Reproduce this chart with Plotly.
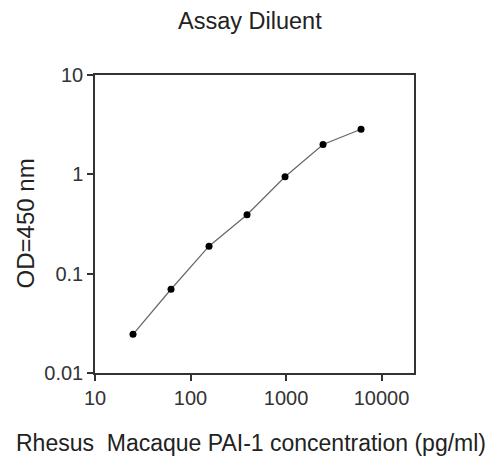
import plotly.graph_objects as go

concentration = [25, 62.5, 156.25, 390.6, 976.6, 2441, 6103]
od450 = [0.0245, 0.0697, 0.189, 0.392, 0.946, 2.0, 2.84]
x_ticks = [10, 100, 1000, 10000]
x_tick_labels = ["10", "100", "1000", "10000"]
y_ticks = [0.01, 0.1, 1, 10]
y_tick_labels = ["0.01", "0.1", "1", "10"]

FONT = "Liberation Sans, Arial, sans-serif"

fig = go.Figure()
fig.add_trace(go.Scatter(
    x=concentration, y=od450, mode="lines+markers",
    line=dict(color="#666666", width=1.2),
    marker=dict(color="black", size=7),
    showlegend=False,
))

axis_common = dict(
    showgrid=False, zeroline=False, showline=True, linecolor="#333333",
    linewidth=1.5, mirror=True, ticks="outside", ticklen=6, tickwidth=1.5,
    tickcolor="#333333", tickfont=dict(family=FONT, size=20, color="#333333"),
)

fig.update_layout(
    width=488, height=458,
    margin=dict(l=87, r=82, t=67, b=93),
    paper_bgcolor="white", plot_bgcolor="white",
    xaxis=dict(type="log", range=[1, 4.34], tickvals=x_ticks, ticktext=x_tick_labels, **axis_common),
    yaxis=dict(type="log", range=[-2, 1], tickvals=y_ticks, ticktext=y_tick_labels, **axis_common),
    annotations=[
        dict(text="Assay Diluent", xref="paper", yref="paper", x=(250 - 95) / 319, y=1 + (75 - 21) / 298,
             xanchor="center", yanchor="middle", showarrow=False,
             font=dict(family=FONT, size=23.5, color="#222222")),
        dict(text="Rhesus  Macaque PAI-1 concentration (pg/ml)", xref="paper", yref="paper",
             x=(251 - 95) / 319, y=-70 / 298, xanchor="center", yanchor="middle", showarrow=False,
             font=dict(family=FONT, size=23, color="#222222")),
        dict(text="OD=450 nm", xref="paper", yref="paper", x=-70 / 319, y=0.502, textangle=-90,
             xanchor="center", yanchor="middle", showarrow=False,
             font=dict(family=FONT, size=24, color="#222222")),
    ],
)

fig.write_html("out.html")
